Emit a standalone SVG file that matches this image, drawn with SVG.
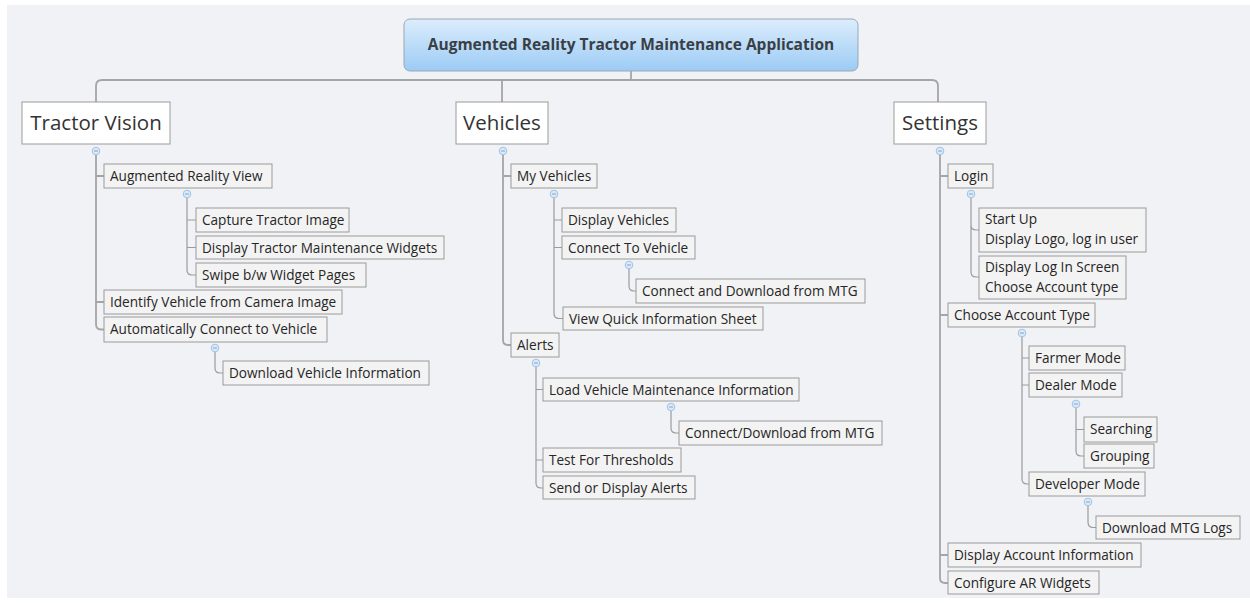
<svg xmlns="http://www.w3.org/2000/svg" width="1250" height="603" viewBox="0 0 1250 603">
<defs>
<linearGradient id="rootg" x1="0" y1="0" x2="0" y2="1">
<stop offset="0" stop-color="#dcedfc"/>
<stop offset="1" stop-color="#9ccbf5"/>
</linearGradient>
<style>
.t{font-family:"Open Sans","DejaVu Sans",sans-serif;font-size:13.6px;fill:#262626}
.big{font-family:"Open Sans","DejaVu Sans",sans-serif;font-size:20.5px;fill:#333}
.rt{font-family:"Open Sans","DejaVu Sans",sans-serif;font-size:15.5px;font-weight:bold;fill:#3a3f45}
.b{fill:#f3f3f3;stroke:#9a9a9a;stroke-width:1}
.mb{fill:#ffffff;stroke:#9a9a9a;stroke-width:1}
.c{fill:none;stroke:#9b9b9b;stroke-width:1.2}
.cm{fill:none;stroke:#a5a5a5;stroke-width:1.8}
.dot{fill:#dbe9f8;stroke:#9fc2e6;stroke-width:1}
.dm{stroke:#7fa6d0;stroke-width:1}
</style>
</defs>
<rect x="0" y="0" width="1250" height="603" fill="#ffffff"/>
<rect x="7" y="5" width="1243" height="593" fill="#f1f2f6"/>

<g id="connectors">
<path class="cm" d="M631,71 V80 M96,102 V86 Q96,80 102,80 H932 Q938,80 938,86 V102 M502,80 V102"/>
<path class="cm" d="M96,155 V324 Q96,329.5 101,329.5 H104 M96,176 H104 M96,302 H104"/>
<path class="c" d="M187,198 V270 Q187,275 192,275 H196 M187,220 H196 M187,247.5 H196"/>
<path class="c" d="M215,352 V368 Q215,373 220,373 H223"/>
<path class="cm" d="M503,155 V340 Q503,345 508,345 H511 M503,176 H511"/>
<path class="c" d="M554,198 V313 Q554,318.5 559,318.5 H563 M554,220 H562 M554,247.5 H562"/>
<path class="c" d="M629,269 V286 Q629,291 634,291 H636"/>
<path class="c" d="M536,367 V483 Q536,488 541,488 H543 M536,389.5 H543 M536,460 H543"/>
<path class="c" d="M671,411 V428 Q671,433 676,433 H679"/>
<path class="cm" d="M940,155 V578 Q940,583 945,583 H948 M940,176 H948 M940,315 H948 M940,555 H948"/>
<path class="c" d="M971,198 V272 Q971,277 976,277 H979 M971,225 Q971,230 976,230 H979"/>
<path class="c" d="M1022,337 V479 Q1022,484 1027,484 H1029 M1022,358 H1029 M1022,385 H1029"/>
<path class="c" d="M1076,408 V451 Q1076,456 1081,456 H1084 M1076,429.5 H1084"/>
<path class="c" d="M1088,506 V522 Q1088,527.5 1093,527.5 H1096"/>
<g>
<circle class="dot" cx="96" cy="151" r="3.8"/><line class="dm" x1="94" y1="151" x2="98" y2="151"/>
<circle class="dot" cx="187" cy="194" r="3.8"/><line class="dm" x1="185" y1="194" x2="189" y2="194"/>
<circle class="dot" cx="215" cy="348" r="3.8"/><line class="dm" x1="213" y1="348" x2="217" y2="348"/>
<circle class="dot" cx="503" cy="151" r="3.8"/><line class="dm" x1="501" y1="151" x2="505" y2="151"/>
<circle class="dot" cx="554" cy="194" r="3.8"/><line class="dm" x1="552" y1="194" x2="556" y2="194"/>
<circle class="dot" cx="629" cy="265" r="3.8"/><line class="dm" x1="627" y1="265" x2="631" y2="265"/>
<circle class="dot" cx="536" cy="363" r="3.8"/><line class="dm" x1="534" y1="363" x2="538" y2="363"/>
<circle class="dot" cx="671" cy="407" r="3.8"/><line class="dm" x1="669" y1="407" x2="673" y2="407"/>
<circle class="dot" cx="940" cy="151" r="3.8"/><line class="dm" x1="938" y1="151" x2="942" y2="151"/>
<circle class="dot" cx="971" cy="194" r="3.8"/><line class="dm" x1="969" y1="194" x2="973" y2="194"/>
<circle class="dot" cx="1022" cy="333" r="3.8"/><line class="dm" x1="1020" y1="333" x2="1024" y2="333"/>
<circle class="dot" cx="1076" cy="404" r="3.8"/><line class="dm" x1="1074" y1="404" x2="1078" y2="404"/>
<circle class="dot" cx="1088" cy="502" r="3.8"/><line class="dm" x1="1086" y1="502" x2="1090" y2="502"/>
</g>
</g>

<g id="root">
<rect x="404" y="19" width="454" height="52" rx="6" fill="url(#rootg)" stroke="#9aa7b5" stroke-width="1"/>
<text class="rt" x="631" y="50" text-anchor="middle">Augmented Reality Tractor Maintenance Application</text>
</g>

<g id="tractor-vision"><rect class="mb" x="22" y="102" width="148" height="42"/><text class="big" x="96" y="130" text-anchor="middle">Tractor Vision</text></g>
<g id="vehicles"><rect class="mb" x="456" y="102" width="92" height="42"/><text class="big" x="502" y="130" text-anchor="middle">Vehicles</text></g>
<g id="settings"><rect class="mb" x="894" y="102" width="92" height="42"/><text class="big" x="940" y="130" text-anchor="middle">Settings</text></g>

<g id="ar-view"><rect class="b" x="104" y="164" width="168" height="24"/><text class="t" x="110" y="181">Augmented Reality View</text></g>
<g id="capture"><rect class="b" x="196" y="208" width="153" height="24"/><text class="t" x="202" y="225">Capture Tractor Image</text></g>
<g id="display-widgets"><rect class="b" x="196" y="236" width="248" height="23"/><text class="t" x="202" y="252.5">Display Tractor Maintenance Widgets</text></g>
<g id="swipe"><rect class="b" x="196" y="263" width="170" height="24"/><text class="t" x="202" y="280">Swipe b/w Widget Pages</text></g>
<g id="identify"><rect class="b" x="104" y="290" width="238" height="24"/><text class="t" x="110" y="307">Identify Vehicle from Camera Image</text></g>
<g id="auto-connect"><rect class="b" x="104" y="317" width="223" height="25"/><text class="t" x="110" y="334">Automatically Connect to Vehicle</text></g>
<g id="download-info"><rect class="b" x="223" y="361" width="206" height="24"/><text class="t" x="229" y="378">Download Vehicle Information</text></g>

<g id="my-vehicles"><rect class="b" x="511" y="164" width="86" height="24"/><text class="t" x="517" y="181">My Vehicles</text></g>
<g id="display-vehicles"><rect class="b" x="562" y="208" width="114" height="24"/><text class="t" x="568" y="225">Display Vehicles</text></g>
<g id="connect-to-vehicle"><rect class="b" x="562" y="236" width="133" height="23"/><text class="t" x="568" y="252.5">Connect To Vehicle</text></g>
<g id="connect-download-mtg"><rect class="b" x="636" y="279" width="229" height="24"/><text class="t" x="642" y="296">Connect and Download from MTG</text></g>
<g id="quick-info"><rect class="b" x="563" y="307" width="200" height="23"/><text class="t" x="569" y="323.5">View Quick Information Sheet</text></g>
<g id="alerts"><rect class="b" x="511" y="333" width="48" height="24"/><text class="t" x="517" y="350">Alerts</text></g>
<g id="load-maint"><rect class="b" x="543" y="378" width="256" height="23"/><text class="t" x="549" y="394.5">Load Vehicle Maintenance Information</text></g>
<g id="connect-download-mtg2"><rect class="b" x="679" y="421" width="203" height="24"/><text class="t" x="685" y="438">Connect/Download from MTG</text></g>
<g id="thresholds"><rect class="b" x="543" y="448" width="138" height="24"/><text class="t" x="549" y="465">Test For Thresholds</text></g>
<g id="send-alerts"><rect class="b" x="543" y="476" width="152" height="23"/><text class="t" x="549" y="492.5">Send or Display Alerts</text></g>

<g id="login"><rect class="b" x="948" y="164" width="45" height="24"/><text class="t" x="954" y="181">Login</text></g>
<g id="startup"><rect class="b" x="979" y="208" width="167" height="44"/><text class="t" x="985" y="224">Start Up</text><text class="t" x="985" y="244">Display Logo, log in user</text></g>
<g id="login-screen"><rect class="b" x="979" y="256" width="147" height="43"/><text class="t" x="985" y="271.5">Display Log In Screen</text><text class="t" x="985" y="291.5">Choose Account type</text></g>
<g id="choose-account"><rect class="b" x="948" y="303" width="147" height="24"/><text class="t" x="954" y="320">Choose Account Type</text></g>
<g id="farmer"><rect class="b" x="1029" y="346" width="96" height="24"/><text class="t" x="1035" y="363">Farmer Mode</text></g>
<g id="dealer"><rect class="b" x="1029" y="373" width="93" height="24"/><text class="t" x="1035" y="390">Dealer Mode</text></g>
<g id="searching"><rect class="b" x="1084" y="417" width="73" height="25"/><text class="t" x="1090" y="434">Searching</text></g>
<g id="grouping"><rect class="b" x="1084" y="444" width="70" height="24"/><text class="t" x="1090" y="461">Grouping</text></g>
<g id="developer"><rect class="b" x="1029" y="472" width="116" height="24"/><text class="t" x="1035" y="489">Developer Mode</text></g>
<g id="mtg-logs"><rect class="b" x="1096" y="516" width="144" height="23"/><text class="t" x="1102" y="532.5">Download MTG Logs</text></g>
<g id="account-info"><rect class="b" x="948" y="543" width="193" height="24"/><text class="t" x="954" y="560">Display Account Information</text></g>
<g id="ar-widgets"><rect class="b" x="948" y="571" width="151" height="23"/><text class="t" x="954" y="587.5">Configure AR Widgets</text></g>
</svg>
